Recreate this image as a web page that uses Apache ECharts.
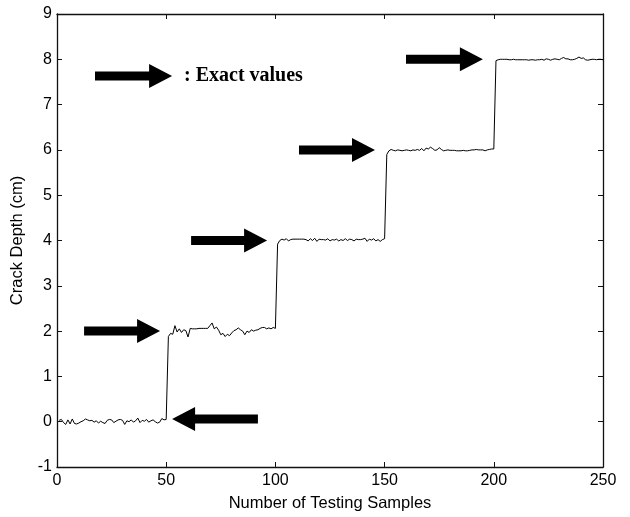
<!DOCTYPE html>
<html>
<head>
<meta charset="utf-8">
<script src="https://cdn.jsdelivr.net/npm/echarts@6/dist/echarts.min.js"></script>
<style>
  html, body { margin: 0; padding: 0; background: #fff; }
  #container { width: 630px; height: 517px; }
</style>
</head>
<body>
<div id="container"></div>
<script>
// estimated crack depth per testing sample (samples 1..250)
const depth_0cm = [0.03, 0.05, -0.02, -0.06, 0.04, -0.05, 0.06, -0.04, -0.05, -0.03, 0.00, 0.02, 0.06, 0.04, 0.02, 0.03, -0.01, 0.02, -0.03, 0.01, -0.02, -0.04, 0.03, 0.05, 0.04, -0.02, 0.01, 0.04, 0.05, 0.03, -0.06, 0.02, 0.00, 0.04, -0.01, 0.02, 0.08, -0.02, 0.03, 0.01, 0.05, -0.01, 0.02, 0.04, 0.00, -0.03, -0.01, 0.07, 0.04, 0.05];
const depth_2cm = [1.88, 1.95, 1.93, 2.12, 1.98, 2.05, 1.97, 2.03, 2.01, 1.87, 2.06, 2.05, 2.05, 2.05, 2.06, 2.06, 2.06, 2.06, 2.06, 2.12, 2.18, 2.05, 2.09, 2.02, 1.92, 1.95, 1.88, 1.93, 1.90, 1.96, 2.01, 2.03, 2.07, 2.03, 2.00, 1.92, 2.00, 1.97, 2.03, 2.00, 2.02, 2.03, 2.06, 2.08, 2.08, 2.05, 2.07, 2.05, 2.08, 2.06];
const depth_4cm = [3.92, 4.00, 4.03, 4.01, 4.04, 3.99, 4.02, 4.03, 4.03, 4.03, 4.03, 4.03, 4.03, 4.02, 3.99, 4.04, 4.00, 4.05, 3.98, 4.03, 4.02, 4.02, 4.01, 4.04, 3.99, 4.02, 4.01, 4.03, 3.99, 4.02, 4.00, 4.04, 4.00, 4.03, 4.02, 3.99, 4.03, 4.02, 4.02, 4.03, 4.05, 3.98, 4.03, 4.01, 4.04, 3.99, 4.02, 3.98, 4.02, 4.04];
const depth_6cm = [5.90, 5.98, 6.01, 5.99, 5.98, 6.00, 5.99, 5.98, 5.99, 6.00, 5.99, 5.98, 6.00, 5.99, 6.01, 5.99, 6.03, 5.98, 6.04, 6.02, 6.06, 6.03, 5.99, 6.00, 6.05, 6.01, 5.98, 5.99, 6.00, 5.99, 5.99, 5.99, 5.98, 5.98, 5.98, 5.99, 5.98, 5.98, 5.99, 6.00, 6.00, 6.01, 6.00, 6.00, 6.00, 5.98, 6.00, 6.01, 6.02, 6.02];
const depth_8cm = [7.97, 7.99, 8.00, 8.00, 8.00, 8.00, 7.99, 7.99, 8.00, 7.99, 7.99, 7.99, 7.99, 7.99, 7.99, 7.98, 7.99, 7.99, 7.98, 7.99, 7.99, 8.00, 7.98, 8.01, 8.00, 7.98, 8.00, 8.01, 8.00, 7.99, 8.02, 8.04, 8.01, 8.01, 7.99, 7.99, 8.00, 8.02, 8.05, 8.02, 8.03, 7.99, 7.98, 7.99, 8.00, 8.00, 7.99, 8.00, 8.00, 7.99];

// arrows marking the exact values: [tailX, headX, y]
const exact_arrows = [
  [17.4, 52.7, 7.63],
  [12.4, 47.2, 2.0],
  [92.0, 52.7, 0.06],
  [61.4, 96.2, 4.0],
  [110.8, 145.6, 6.0],
  [159.8, 195.0, 8.0]
];

const x_ticks = [0, 50, 100, 150, 200, 250];
const y_ticks = [-1, 0, 1, 2, 3, 4, 5, 6, 7, 8, 9];

const depth_all = depth_0cm.concat(depth_2cm, depth_4cm, depth_6cm, depth_8cm);
const line_data = depth_all.map((v, i) => [i + 1, v]);

const dom = document.getElementById("container");
const myChart = echarts.init(dom, null, { renderer: "canvas" });

const nameFont = { color: "#000", fontFamily: "Liberation Sans, Arial", fontSize: 16.5 };
const labelFont = { color: "#000", fontFamily: "Liberation Sans, Arial", fontSize: 16 };
const axisLine = { onZero: false, lineStyle: { color: "#111", width: 1.3 } };
const tick = { inside: true, length: 5, lineStyle: { color: "#111" } };

const option = {
  animation: false,
  backgroundColor: "#fff",
  grid: { left: 57, right: 27, top: 14, bottom: 49 },
  xAxis: [
    {
      type: "value",
      min: x_ticks[0],
      max: x_ticks[x_ticks.length - 1],
      interval: 50,
      name: "Number of Testing Samples",
      nameLocation: "middle",
      nameGap: 28,
      nameTextStyle: nameFont,
      axisLine: axisLine,
      axisTick: tick,
      axisLabel: Object.assign({ margin: 6 }, labelFont),
      splitLine: { show: false }
    },
    {
      type: "value",
      position: "top",
      min: x_ticks[0],
      max: x_ticks[x_ticks.length - 1],
      interval: 50,
      axisLine: axisLine,
      axisTick: tick,
      axisLabel: { show: false },
      splitLine: { show: false }
    }
  ],
  yAxis: [
    {
      type: "value",
      min: y_ticks[0],
      max: y_ticks[y_ticks.length - 1],
      interval: 1,
      name: "Crack Depth (cm)",
      nameLocation: "middle",
      nameGap: 31,
      nameTextStyle: nameFont,
      axisLine: axisLine,
      axisTick: tick,
      axisLabel: Object.assign({ margin: 5 }, labelFont),
      splitLine: { show: false }
    },
    {
      type: "value",
      position: "right",
      min: y_ticks[0],
      max: y_ticks[y_ticks.length - 1],
      interval: 1,
      axisLine: axisLine,
      axisTick: tick,
      axisLabel: { show: false },
      splitLine: { show: false }
    }
  ],
  series: [
    {
      type: "line",
      data: line_data,
      showSymbol: false,
      lineStyle: { color: "#000", width: 1 }
    },
    {
      type: "custom",
      data: exact_arrows,
      renderItem: function (params, api) {
        const tail = api.coord([api.value(0), api.value(2)]);
        const head = api.coord([api.value(1), api.value(2)]);
        const dir = head[0] > tail[0] ? 1 : -1;
        const headLen = 23, shaft = 4.5, half = 12;
        const neck = head[0] - dir * headLen;
        const y = head[1];
        return {
          type: "polygon",
          shape: {
            points: [
              [tail[0], y - shaft],
              [neck, y - shaft],
              [neck, y - half],
              [head[0], y],
              [neck, y + half],
              [neck, y + shaft],
              [tail[0], y + shaft]
            ]
          },
          style: { fill: "#000" }
        };
      },
      z: 3
    }
  ],
  graphic: [
    {
      type: "text",
      left: 184,
      top: 66,
      style: {
        text: ": Exact values",
        fontFamily: "Liberation Serif, Times New Roman",
        fontWeight: "bold",
        fontSize: 20,
        fill: "#000"
      }
    }
  ]
};

myChart.setOption(option);
</script>
</body>
</html>
